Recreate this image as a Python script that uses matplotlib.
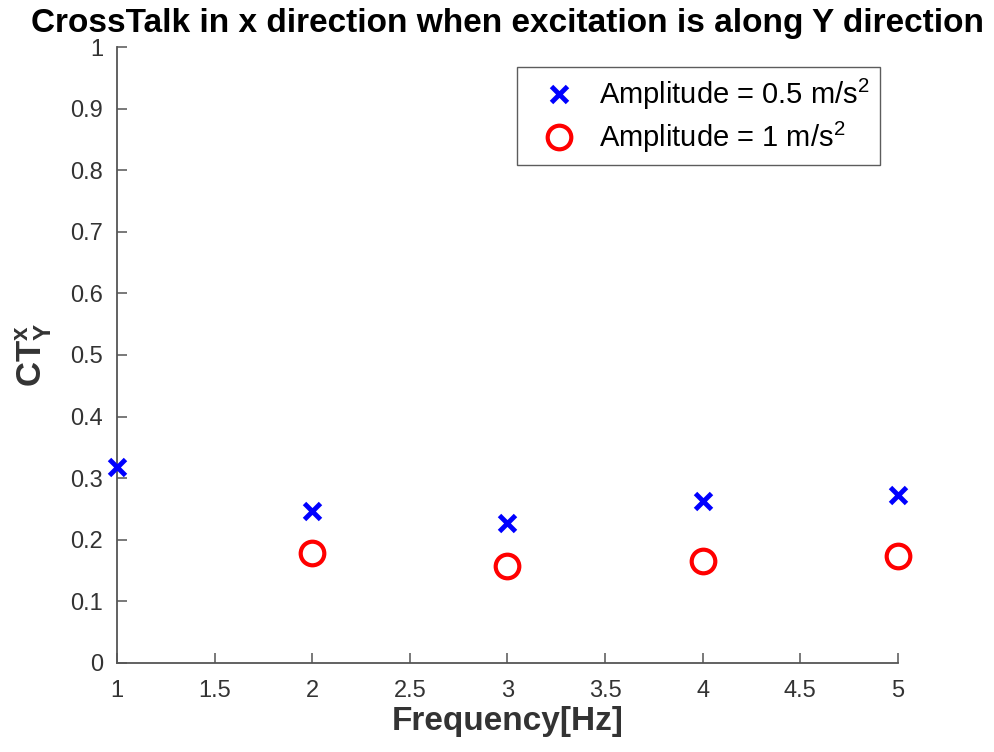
#!/usr/bin/env python3

import matplotlib
matplotlib.use("Agg")
import matplotlib.pyplot as plt

# data
freq = [1, 2, 3, 4, 5]
ct_half = [0.318, 0.247, 0.227, 0.263, 0.273]
freq_one = [2, 3, 4, 5]
ct_one = [0.178, 0.157, 0.165, 0.174]
x_ticks = [1, 1.5, 2, 2.5, 3, 3.5, 4, 4.5, 5]
x_tick_labels = ["1", "1.5", "2", "2.5", "3", "3.5", "4", "4.5", "5"]
y_ticks = [0, 0.1, 0.2, 0.3, 0.4, 0.5, 0.6, 0.7, 0.8, 0.9, 1]
y_tick_labels = ["0", "0.1", "0.2", "0.3", "0.4", "0.5", "0.6", "0.7", "0.8", "0.9", "1"]

plt.rcParams["font.family"] = ["Liberation Sans", "DejaVu Sans"]
plt.rcParams["mathtext.fontset"] = "custom"
plt.rcParams["mathtext.rm"] = "Liberation Sans"
plt.rcParams["mathtext.bf"] = "Liberation Sans:bold"
plt.rcParams["mathtext.default"] = "regular"

fig = plt.figure(figsize=(9.95, 7.52), dpi=100)
ax = fig.add_axes([0.1176, 0.1184, 0.7849, 0.8191])

ax.plot(freq, ct_half, linestyle="none", marker="x", color="#0000ff",
        markersize=12, markeredgewidth=3.5, label="Amplitude = 0.5 m/s$^2$",
        clip_on=False, zorder=3)
ax.plot(freq_one, ct_one, linestyle="none", marker="o", color="#ff0000",
        markerfacecolor="none", markersize=17, markeredgewidth=3,
        label="Amplitude = 1 m/s$^2$", clip_on=False, zorder=3)

ax.set_xlim(1, 5)
ax.set_ylim(0, 1)
ax.set_xticks(x_ticks)
ax.set_xticklabels(x_tick_labels)
ax.set_yticks(y_ticks)
ax.set_yticklabels(y_tick_labels)

for side in ["top", "right"]:
    ax.spines[side].set_visible(False)
for side in ["left", "bottom"]:
    ax.spines[side].set_color("#555555")
    ax.spines[side].set_linewidth(1.3)
ax.tick_params(direction="in", length=7, width=1.1, color="#555555",
               labelcolor="#333333", labelsize=17)
ax.tick_params(axis="x", pad=12)
ax.tick_params(axis="y", pad=10)

ax.set_title("CrossTalk in x direction when excitation is along Y direction",
             fontsize=24, fontweight="bold", pad=11)
ax.set_xlabel("Frequency[Hz]", fontsize=24, fontweight="bold", color="#333333",
              labelpad=3)
ax.set_ylabel(r"$\mathbf{CT}_{\mathbf{Y}}^{\mathbf{x}}$", fontsize=25,
              color="#333333", labelpad=12)

leg = ax.legend(loc="upper right", bbox_to_anchor=(0.977, 0.9675), fontsize=21,
                frameon=True, fancybox=False, borderpad=0.35, borderaxespad=0,
                handletextpad=0.25, labelspacing=0.25, handlelength=2.23)
leg.get_frame().set_edgecolor("#333333")
leg.get_frame().set_linewidth(1.0)

fig.savefig("out.png", dpi=100)
plt.close(fig)
